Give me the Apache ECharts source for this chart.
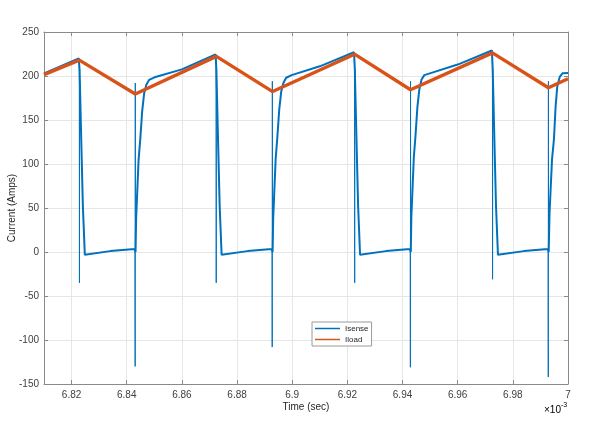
<!DOCTYPE html>
<html>
<head>
<meta charset="utf-8">
<script src="https://cdn.jsdelivr.net/npm/echarts@6/dist/echarts.min.js"></script>
<style>
  html, body { margin: 0; padding: 0; background: #fff; }
  #chart { width: 600px; height: 430px; }
</style>
</head>
<body>
<div id="chart"></div>
<script>
// time in ms (axis shows x10^-3 sec)
var loadT = [6.81, 6.8228, 6.8431, 6.8725, 6.8929, 6.9226, 6.9429, 6.9726, 6.9929, 7.0];
var loadA = [201.5, 218, 179.5, 222.3, 182.3, 224.8, 184.4, 226.3, 186.6, 196.8];

// Isense main trace (ramp, turn-off fall, low level, turn-on rise)
var senseT = [
  6.81, 6.8226,
  6.8227, 6.8229, 6.8235, 6.8241, 6.8248, 6.8252, 6.8340, 6.8429,
  6.8432, 6.8434, 6.8443, 6.8449, 6.8456, 6.8463, 6.8471, 6.8481, 6.8501, 6.8600, 6.8722,
  6.8723, 6.8725, 6.8731, 6.8737, 6.8744, 6.8748, 6.8838, 6.8926,
  6.8929, 6.8931, 6.8940, 6.8946, 6.8953, 6.8960, 6.8968, 6.8978, 6.8998, 6.9100, 6.9224,
  6.9225, 6.9227, 6.9233, 6.9239, 6.9246, 6.9250, 6.9340, 6.9427,
  6.9430, 6.9432, 6.9441, 6.9447, 6.9454, 6.9461, 6.9469, 6.9479, 6.9499, 6.9600, 6.9724,
  6.9725, 6.9727, 6.9733, 6.9739, 6.9746, 6.9750, 6.9840, 6.9927,
  6.9930, 6.9933, 6.9942, 6.9949, 6.9955, 6.9961, 6.9970, 6.9980, 7.0
];
var senseA = [
  203, 220,
  220.5, 207, 128, 52, -3, -1.5, 1, 3.3,
  0, 38, 105, 128, 160, 180, 190, 195.5, 198.5, 207.5, 224.5,
  224.8, 208, 128, 52, -3, -1.5, 1, 3.4,
  0, 38, 106, 130, 162, 182, 192, 198, 201, 211, 227,
  227, 208, 128, 52, -3, -1.5, 1, 3.4,
  0, 40, 108, 132, 165, 185, 196, 201, 203, 213, 229,
  229, 208, 128, 52, -3, -1.5, 1, 3.4,
  0, 44, 105, 128, 165, 188, 199, 203, 203.5
];

// switching spikes (thin), null = break
var spikeT = [
  6.8228, 6.82285, 6.8229, null,
  6.8430, 6.84305, 6.8431, 6.84315, null,
  6.8724, 6.87245, 6.8725, null,
  6.8927, 6.89275, 6.8928, 6.89285, null,
  6.9226, 6.92265, 6.9227, null,
  6.9428, 6.94285, 6.9429, 6.94295, null,
  6.9726, 6.97265, 6.9727, null,
  6.9928, 6.99285, 6.9929, 6.99295
];
var spikeA = [
  220, -35, 207, null,
  3.3, -130, 192, 1, null,
  224.6, -35, 208, null,
  3.4, -108, 194, 1, null,
  227, -35, 208, null,
  3.4, -131, 194, 1, null,
  229, -31, 208, null,
  3.4, -142, 194, 1
];

var yTicks = [-150, -100, -50, 0, 50, 100, 150, 200, 250];

function zip(t, a) {
  return t.map(function (x, i) { return x === null ? ['-', '-'] : [x, a[i]]; });
}

var FONT = 'Liberation Sans, Arial, sans-serif';
var frame = '#8a8a8a';
var grid = '#e6e6e6';
var blue = '#0072BD';
var orange = '#D95319';

function xLabel(v) {
  if (Math.abs(v * 50 - Math.round(v * 50)) > 1e-6) return '';
  return String(+v.toFixed(2));
}

var chart = echarts.init(document.getElementById('chart'));
chart.setOption({
  animation: false,
  backgroundColor: '#fff',
  grid: { left: 44, right: 32, top: 32, bottom: 46, containLabel: false, outerBoundsMode: 'none' },
  legend: {
    left: 312, top: 322,
    orient: 'vertical',
    data: [
      { name: 'Isense', icon: 'rect', itemStyle: { color: blue } },
      { name: 'Iload', icon: 'rect', itemStyle: { color: orange } }
    ],
    itemWidth: 25, itemHeight: 1.5, itemGap: 2, itemTextGap: 5,
    padding: [2, 3, 2, 3],
    backgroundColor: '#fff',
    borderColor: '#9a9a9a', borderWidth: 1,
    textStyle: { fontFamily: FONT, fontSize: 8, color: '#262626', lineHeight: 9 }
  },
  xAxis: [{
    type: 'value', min: 6.81, max: 7.0,
    minInterval: 0.02, maxInterval: 0.02, splitNumber: 10,
    name: 'Time (sec)', nameLocation: 'middle', nameGap: 18, nameMoveOverlap: false,
    nameTextStyle: { fontFamily: FONT, fontSize: 10, color: '#262626' },
    axisLine: { onZero: false, lineStyle: { color: frame } },
    axisTick: { inside: true, length: 4, lineStyle: { color: frame } },
    axisLabel: { margin: 6, fontFamily: FONT, fontSize: 10, color: '#404040', formatter: xLabel },
    splitLine: { show: true, lineStyle: { color: grid } }
  }, {
    type: 'value', position: 'top', min: 6.81, max: 7.0,
    minInterval: 0.02, maxInterval: 0.02, splitNumber: 10,
    axisLine: { onZero: false, lineStyle: { color: frame } },
    axisTick: { inside: true, length: 4, lineStyle: { color: frame } },
    axisLabel: { show: false },
    splitLine: { show: false }
  }],
  yAxis: [{
    type: 'value', min: yTicks[0], max: yTicks[yTicks.length - 1], interval: 50,
    name: 'Current (Amps)', nameLocation: 'middle', nameGap: 27, nameMoveOverlap: false,
    nameTextStyle: { fontFamily: FONT, fontSize: 10, color: '#262626' },
    axisLine: { show: true, onZero: false, lineStyle: { color: frame } },
    axisTick: { show: true, inside: true, length: 4, lineStyle: { color: frame } },
    axisLabel: { margin: 5, fontFamily: FONT, fontSize: 10, color: '#404040' },
    splitLine: { show: true, lineStyle: { color: grid } }
  }, {
    type: 'value', position: 'right', min: yTicks[0], max: yTicks[yTicks.length - 1], interval: 50,
    axisLine: { show: true, onZero: false, lineStyle: { color: frame } },
    axisTick: { show: true, inside: true, length: 4, lineStyle: { color: frame } },
    axisLabel: { show: false },
    splitLine: { show: false }
  }],
  series: [{
    name: 'Isense', type: 'line', showSymbol: false, symbol: 'none',
    data: zip(senseT, senseA),
    lineStyle: { color: blue, width: 2 },
    itemStyle: { color: blue }, z: 2
  }, {
    name: 'Isense', type: 'line', showSymbol: false, symbol: 'none',
    data: zip(spikeT, spikeA), connectNulls: false,
    lineStyle: { color: blue, width: 1 },
    itemStyle: { color: blue }, z: 2
  }, {
    name: 'Iload', type: 'line', showSymbol: false, symbol: 'none',
    data: zip(loadT, loadA),
    lineStyle: { color: orange, width: 3.4 },
    itemStyle: { color: orange }, z: 3
  }],
  graphic: [{
    type: 'text', left: 544, top: 402,
    style: {
      text: '{a|×10}{b|-3}',
      rich: {
        a: { fontFamily: FONT, fontSize: 10, color: '#404040', padding: [5, 0, 0, 0] },
        b: { fontFamily: FONT, fontSize: 7, color: '#404040', padding: [0, 0, 4, 0] }
      }
    }
  }]
});
</script>
</body>
</html>
